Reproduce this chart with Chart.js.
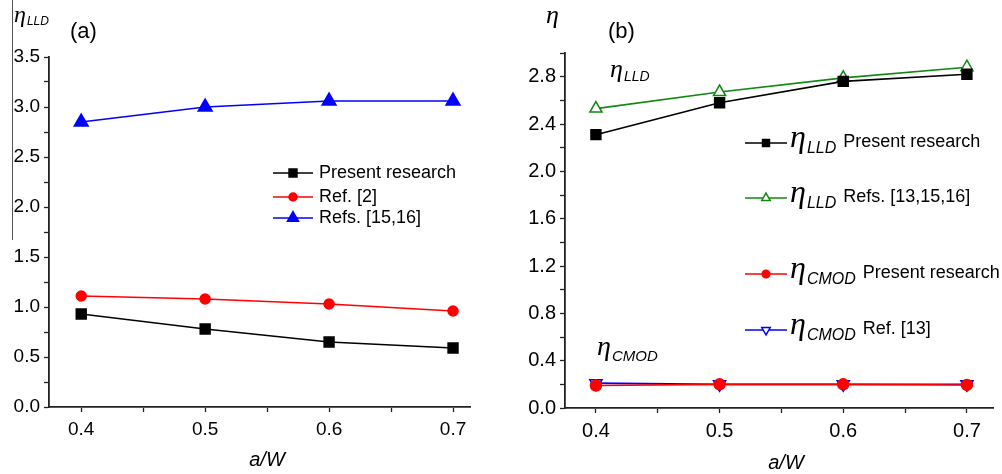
<!DOCTYPE html>
<html>
<head>
<meta charset="utf-8">
<script src="https://cdn.jsdelivr.net/npm/chart.js@4.4.1/dist/chart.umd.min.js"></script>
<style>
  body { margin: 0; background: #fff; width: 1002px; height: 474px; position: relative; overflow: hidden; }
  canvas { position: absolute; top: 0; }
  #ca { left: 0; }
  #cb { left: 500px; }
</style>
</head>
<body>
<canvas id="ca" width="500" height="474"></canvas>
<canvas id="cb" width="502" height="474"></canvas>
<script>
// a/W values shared by both panels
const aW = [0.4, 0.5, 0.6, 0.7];
const xTicks = [0.4, 0.45, 0.5, 0.55, 0.6, 0.65, 0.7];

// panel (a): eta_LLD
const aPresent = [0.93, 0.78, 0.65, 0.59];
const aRef2 = [1.11, 1.08, 1.03, 0.96];
const aRefs1516 = [2.85, 3.0, 3.06, 3.06];
const aLabels = ['Present research', 'Ref. [2]', 'Refs. [15,16]'];
const aYTicks = [0, 0.25, 0.5, 0.75, 1, 1.25, 1.5, 1.75, 2, 2.25, 2.5, 2.75, 3, 3.25, 3.5];

// panel (b): eta_LLD and eta_CMOD
const bLLDPresent = [2.31, 2.58, 2.76, 2.82];
const bLLDRefs = [2.53, 2.67, 2.79, 2.88];
const bCMODPresent = [0.19, 0.2, 0.2, 0.195];
const bCMODRef13 = [0.21, 0.2, 0.2, 0.2];
const bLabels = ['Present research', 'Refs. [13,15,16]', 'Present research', 'Ref. [13]'];
const bSubs = ['LLD', 'LLD', 'CMOD', 'CMOD'];
const bYTicks = [0, 0.2, 0.4, 0.6, 0.8, 1.0, 1.2, 1.4, 1.6, 1.8, 2.0, 2.2, 2.4, 2.6, 2.8, 3.0];

const SANS = '"Liberation Sans", Arial, sans-serif';
const SERIF = '"Liberation Serif", "Times New Roman", serif';

function pts(ys) { return aW.map((x, i) => ({ x: x, y: ys[i] })); }

function series(label, ys, color, style, radius, fill, rot) {
  return {
    label: label, data: pts(ys),
    borderColor: color, backgroundColor: color, borderWidth: 1.6,
    pointStyle: style, pointRadius: radius, pointHoverRadius: radius,
    pointBackgroundColor: fill, pointBorderColor: color, pointBorderWidth: 1.5,
    pointRotation: rot || 0, tension: 0
  };
}

// eta with a subscript, then plain text
function etaText(ctx, x, y, etaSize, sub, subSize, subDy, rest, restSize) {
  ctx.save();
  ctx.fillStyle = '#000';
  ctx.textAlign = 'left';
  ctx.textBaseline = 'alphabetic';
  ctx.font = 'italic ' + etaSize + 'px ' + SERIF;
  ctx.fillText('\u03b7', x, y);
  let cx = x + ctx.measureText('\u03b7').width + 1;
  if (sub) {
    ctx.font = 'italic ' + subSize + 'px ' + SANS;
    ctx.fillText(sub, cx, y + subDy);
    cx += ctx.measureText(sub).width + 7;
  }
  if (rest) {
    ctx.font = restSize + 'px ' + SANS;
    ctx.fillText(rest, cx, y);
  }
  ctx.restore();
}

function legendMark(ctx, ds, x0, x1, y, k) {
  ctx.save();
  ctx.strokeStyle = ds.borderColor;
  ctx.lineWidth = ds.borderWidth;
  ctx.beginPath(); ctx.moveTo(x0, y); ctx.lineTo(x1, y); ctx.stroke();
  ctx.fillStyle = ds.pointBackgroundColor;
  ctx.strokeStyle = ds.pointBorderColor;
  ctx.lineWidth = ds.pointBorderWidth;
  Chart.helpers.drawPoint(ctx, {
    pointStyle: ds.pointStyle, radius: ds.pointRadius * k,
    rotation: ds.pointRotation, borderWidth: ds.pointBorderWidth
  }, (x0 + x1) / 2, y);
  ctx.restore();
}

function text(ctx, s, x, y, font, align) {
  ctx.save();
  ctx.fillStyle = '#000';
  ctx.font = font;
  ctx.textAlign = align || 'left';
  ctx.textBaseline = 'middle';
  ctx.fillText(s, x, y);
  ctx.restore();
}

function axes(xMin, xMax, yMax, yTicks, yStep, yW, xH, fontSize) {
  const tickFont = { family: SANS, size: fontSize };
  const common = {
    type: 'linear',
    grid: { display: true, drawOnChartArea: false, drawTicks: true, tickLength: 5, tickColor: '#222', tickWidth: 1.3 },
    border: { display: true, color: '#222', width: 1.8 }
  };
  return {
    x: Object.assign({}, common, {
      min: xMin, max: xMax,
      afterBuildTicks: s => { s.ticks = xTicks.map(v => ({ value: v })); },
      afterFit: s => { s.height = xH; },
      ticks: { font: tickFont, color: '#000', padding: 6, maxRotation: 0, autoSkip: false,
        callback: v => (Math.round(v * 100) % 10 === 0 ? v.toFixed(1) : '') }
    }),
    y: Object.assign({}, common, {
      min: 0, max: yMax,
      afterBuildTicks: s => { s.ticks = yTicks.map(v => ({ value: v })); },
      afterFit: s => { s.width = yW; },
      ticks: { font: tickFont, color: '#000', padding: 4, autoSkip: false,
        callback: v => (Math.abs(Math.round(v / yStep) * yStep - v) < 1e-6 ? v.toFixed(1) : '') }
    })
  };
}

Chart.defaults.animation = false;

// ---------- panel (a) ----------
const dsA = [
  series(aLabels[0], aPresent, '#000000', 'rect', 7, '#000000'),
  series(aLabels[1], aRef2, '#ff0000', 'circle', 5, '#ff0000'),
  series(aLabels[2], aRefs1516, '#0000ff', 'triangle', 8, '#0000ff')
];

new Chart(document.getElementById('ca'), {
  type: 'line',
  data: { datasets: dsA },
  options: {
    responsive: false,
    layout: { padding: { top: 57, right: 30, bottom: 0, left: 0 } },
    scales: axes(0.374, 0.7137, 3.5, aYTicks, 0.5, 49, 67, 19),
    plugins: { legend: { display: false }, tooltip: { enabled: false } }
  },
  plugins: [{
    id: 'decorA',
    afterDraw(chart) {
      const ctx = chart.ctx;
      // thin frame line at the left edge
      ctx.save(); ctx.strokeStyle = '#555'; ctx.lineWidth = 1;
      ctx.beginPath(); ctx.moveTo(12.5, 0); ctx.lineTo(12.5, 240); ctx.stroke(); ctx.restore();
      etaText(ctx, 14, 22, 24, 'LLD', 12, 3, null, 0);
      text(ctx, '(a)', 70, 32, '22px ' + SANS);
      const rows = [173, 197, 218];
      dsA.forEach((ds, i) => {
        legendMark(ctx, ds, 273, 313, rows[i], 0.8);
        text(ctx, aLabels[i], 319, rows[i], '18px ' + SANS);
      });
      text(ctx, 'a/W', 267, 460, 'italic 20px ' + SANS, 'center');
    }
  }]
});

// ---------- panel (b) ----------
const dsB = [
  series(bLabels[0], bLLDPresent, '#000000', 'rect', 7, '#000000'),
  series(bLabels[1], bLLDRefs, '#118811', 'triangle', 7, '#ffffff'),
  series(bLabels[2], bCMODPresent, '#ff0000', 'circle', 5.5, '#ff0000'),
  series(bLabels[3], bCMODRef13, '#0000ff', 'triangle', 7, '#ffffff', 180)
];

new Chart(document.getElementById('cb'), {
  type: 'line',
  data: { datasets: dsB },
  options: {
    responsive: false,
    layout: { padding: { top: 53, right: 2, bottom: 0, left: 0 } },
    scales: axes(0.375, 0.7215, 3.0, bYTicks, 0.4, 65, 66, 20),
    plugins: { legend: { display: false }, tooltip: { enabled: false } }
  },
  plugins: [{
    id: 'decorB',
    afterDraw(chart) {
      const ctx = chart.ctx;
      etaText(ctx, 46, 23, 26, null, 0, 0, null, 0);
      text(ctx, '(b)', 108, 32, '22px ' + SANS);
      etaText(ctx, 110, 77, 26, 'LLD', 14, 4, null, 0);
      etaText(ctx, 97, 355, 28, 'CMOD', 15, 6, null, 0);
      const rows = [143, 198, 274, 330];
      dsB.forEach((ds, i) => {
        legendMark(ctx, ds, 245, 287, rows[i], 0.7);
        etaText(ctx, 290, rows[i] + 4, 32, bSubs[i], 16, 6, bLabels[i], 18);
      });
      text(ctx, 'a/W', 286, 463, 'italic 20px ' + SANS, 'center');
    }
  }]
});
</script>
</body>
</html>
